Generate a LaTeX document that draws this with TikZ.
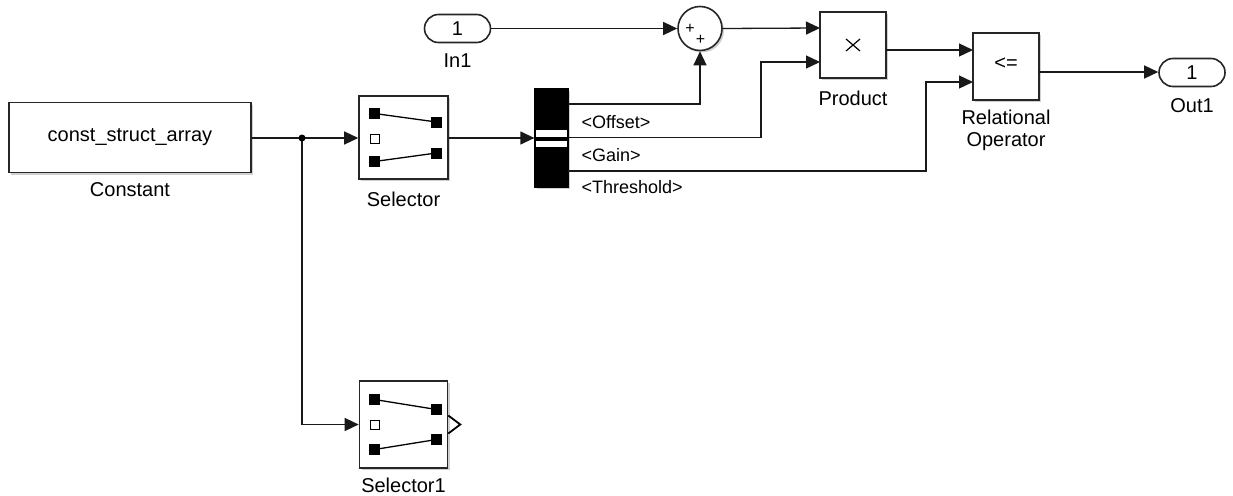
\documentclass[tikz,border=0pt]{standalone}
\usepackage{fontspec}
\setmainfont{Liberation Sans}
\usetikzlibrary{arrows.meta,shadows,shapes.misc,calc}
\begin{document}
\begin{tikzpicture}[x=1pt,y=-1pt,
  line width=1.3pt,
  blk/.style={draw=black!85,line width=1.6pt,fill=white,rectangle,inner sep=0pt,
     drop shadow={shadow xshift=2pt,shadow yshift=-2pt,fill=black!30,opacity=.6}},
  port/.style={draw=black!85,line width=1.6pt,fill=white,rounded rectangle,
     minimum width=66pt,minimum height=28pt,inner sep=0pt,font=\fontsize{20}{24}\selectfont},
  lbl/.style={font=\fontsize{20}{24}\selectfont,inner sep=0pt,align=center},
  sig/.style={font=\fontsize{18}{22}\selectfont,inner sep=0pt,anchor=west},
  wire/.style={draw=black!90,line width=1.3pt},
  arr/.style={wire,-{Triangle[length=14pt,width=13pt]}},
  sq/.style={fill=black,minimum size=11pt,inner sep=0pt,rectangle},
  hsq/.style={draw=black,line width=1pt,fill=white,minimum size=9pt,inner sep=0pt,rectangle}
]
\useasboundingbox (0,0) rectangle (1233,495);
\fill[white] (0,0) rectangle (1233,495);

% Constant
\node[blk,minimum width=242pt,minimum height=70pt,font=\fontsize{20}{24}\selectfont] (const) at (130,137.5) {const\_struct\_array};
\node[lbl] (constL) at (130,190) {Constant};

% junction
\coordinate (junc) at (302,138);

% Selector
\node[blk,minimum width=89pt,minimum height=83pt] (sel) at (403.5,137.5) {};
\node[lbl] (selL) at (403.5,199) {Selector};
\node[sq] (s1a) at ($(sel.center)+(-29,-24)$) {};
\node[hsq] (s1b) at ($(sel.center)+(-29,1)$) {};
\node[sq] (s1c) at ($(sel.center)+(-29,24)$) {};
\node[sq] (s1d) at ($(sel.center)+(33,-15.5)$) {};
\node[sq] (s1e) at ($(sel.center)+(33,15.5)$) {};
\draw[line width=1.3pt] (s1a.center) -- (s1d.center);
\draw[line width=1.3pt] (s1c.center) -- (s1e.center);

% Selector1
\node[blk,minimum width=88pt,minimum height=87pt] (selb) at (403.5,424.5) {};
\node[lbl] (selbL) at (403.5,485) {Selector1};
\node[sq] (s2a) at ($(selb.center)+(-29,-25)$) {};
\node[hsq] (s2b) at ($(selb.center)+(-29,0)$) {};
\node[sq] (s2c) at ($(selb.center)+(-29,25)$) {};
\node[sq] (s2d) at ($(selb.center)+(33,-15)$) {};
\node[sq] (s2e) at ($(selb.center)+(33,15)$) {};
\draw[line width=1.3pt] (s2a.center) -- (s2d.center);
\draw[line width=1.3pt] (s2c.center) -- (s2e.center);
\coordinate (chevA) at ($(selb.east)+(0,-9)$);
\coordinate (chevB) at ($(selb.east)+(12,0)$);
\coordinate (chevC) at ($(selb.east)+(0,9)$);
\draw[line width=1.8pt,line join=miter] (chevA) -- (chevB) -- (chevC);

% Bus selector
\node[draw=black,fill=black,minimum width=33pt,minimum height=98pt,inner sep=0pt,rectangle,
  drop shadow={shadow xshift=2pt,shadow yshift=-2pt,fill=black!30,opacity=.6}] (bus) at (551.5,138) {};
\fill[white] ($(bus.center)+(-15.5,-8)$) rectangle ($(bus.center)+(15.5,-1.5)$);
\fill[white] ($(bus.center)+(-15.5,2.5)$) rectangle ($(bus.center)+(15.5,9)$);
\coordinate (bOff) at (568,104);
\coordinate (bGain) at (568,137.5);
\coordinate (bThr) at (568,171);
\node[sig] (lOff) at (581,122) {<Offset>};
\node[sig] (lGain) at (581,155) {<Gain>};
\node[sig] (lThr) at (581,187) {<Threshold>};

% In1
\node[port] (in1) at (457.5,28.5) {1};
\node[lbl] (in1L) at (457.5,61) {In1};

% Sum
\node[draw=black!85,line width=1.6pt,fill=white,circle,minimum size=44pt,inner sep=0pt,
  drop shadow={shadow xshift=2pt,shadow yshift=-2pt,fill=black!30,opacity=.6}] (sum) at (700,28.5) {};
\node[font=\fontsize{16}{16}\selectfont,inner sep=0pt] (p1) at (690,29) {+};
\node[font=\fontsize{16}{16}\selectfont,inner sep=0pt] (p2) at (700.5,40) {+};

% Product
\node[blk,minimum width=66pt,minimum height=66pt] (prod) at (853,45) {};
\draw[line width=1.2pt] ($(prod.center)+(-7,-6)$) -- ($(prod.center)+(7,6)$);
\draw[line width=1.2pt] ($(prod.center)+(-7,6)$) -- ($(prod.center)+(7,-6)$);
\node[lbl] (prodL) at (853,98) {Product};
\coordinate (prodIn1) at (820,28);
\coordinate (prodIn2) at (820,62);
\coordinate (prodOut) at (886,50);

% Relational
\node[blk,minimum width=66pt,minimum height=67pt] (rel) at (1006,66.5) {};
\node[lbl] (relT) at (1006,64) {<=};
\node[lbl] (relL) at (1006,130) {Relational\\[-2pt]Operator};
\coordinate (relIn1) at (973,50);
\coordinate (relIn2) at (973,82);
\coordinate (relOut) at (1039,72);

% Out1
\node[port] (out1) at (1192,72.5) {1};
\node[lbl] (out1L) at (1192,106) {Out1};

% wires
\draw[wire] (const.east |- junc) -- (junc);
\draw[arr] (junc) -- (sel.west |- junc);
\draw[arr] (junc) |- (selb.west);
\fill (junc) circle (3.5pt);
\draw[arr] (sel.east |- junc) -- (bus.west |- junc);
\draw[arr] (in1.east) -- (sum.west);
\draw[arr] (bOff) -| (sum.south);
\draw[arr] (sum.east) -- (prodIn1);
\draw[arr] (bGain) -- (761,137.5) |- (prodIn2);
\draw[arr] (prodOut) -- (relIn1);
\draw[arr] (bThr) -- (926,171) |- (relIn2);
\draw[arr] (relOut) -- (out1.west |- relOut);
\end{tikzpicture}
\end{document}
